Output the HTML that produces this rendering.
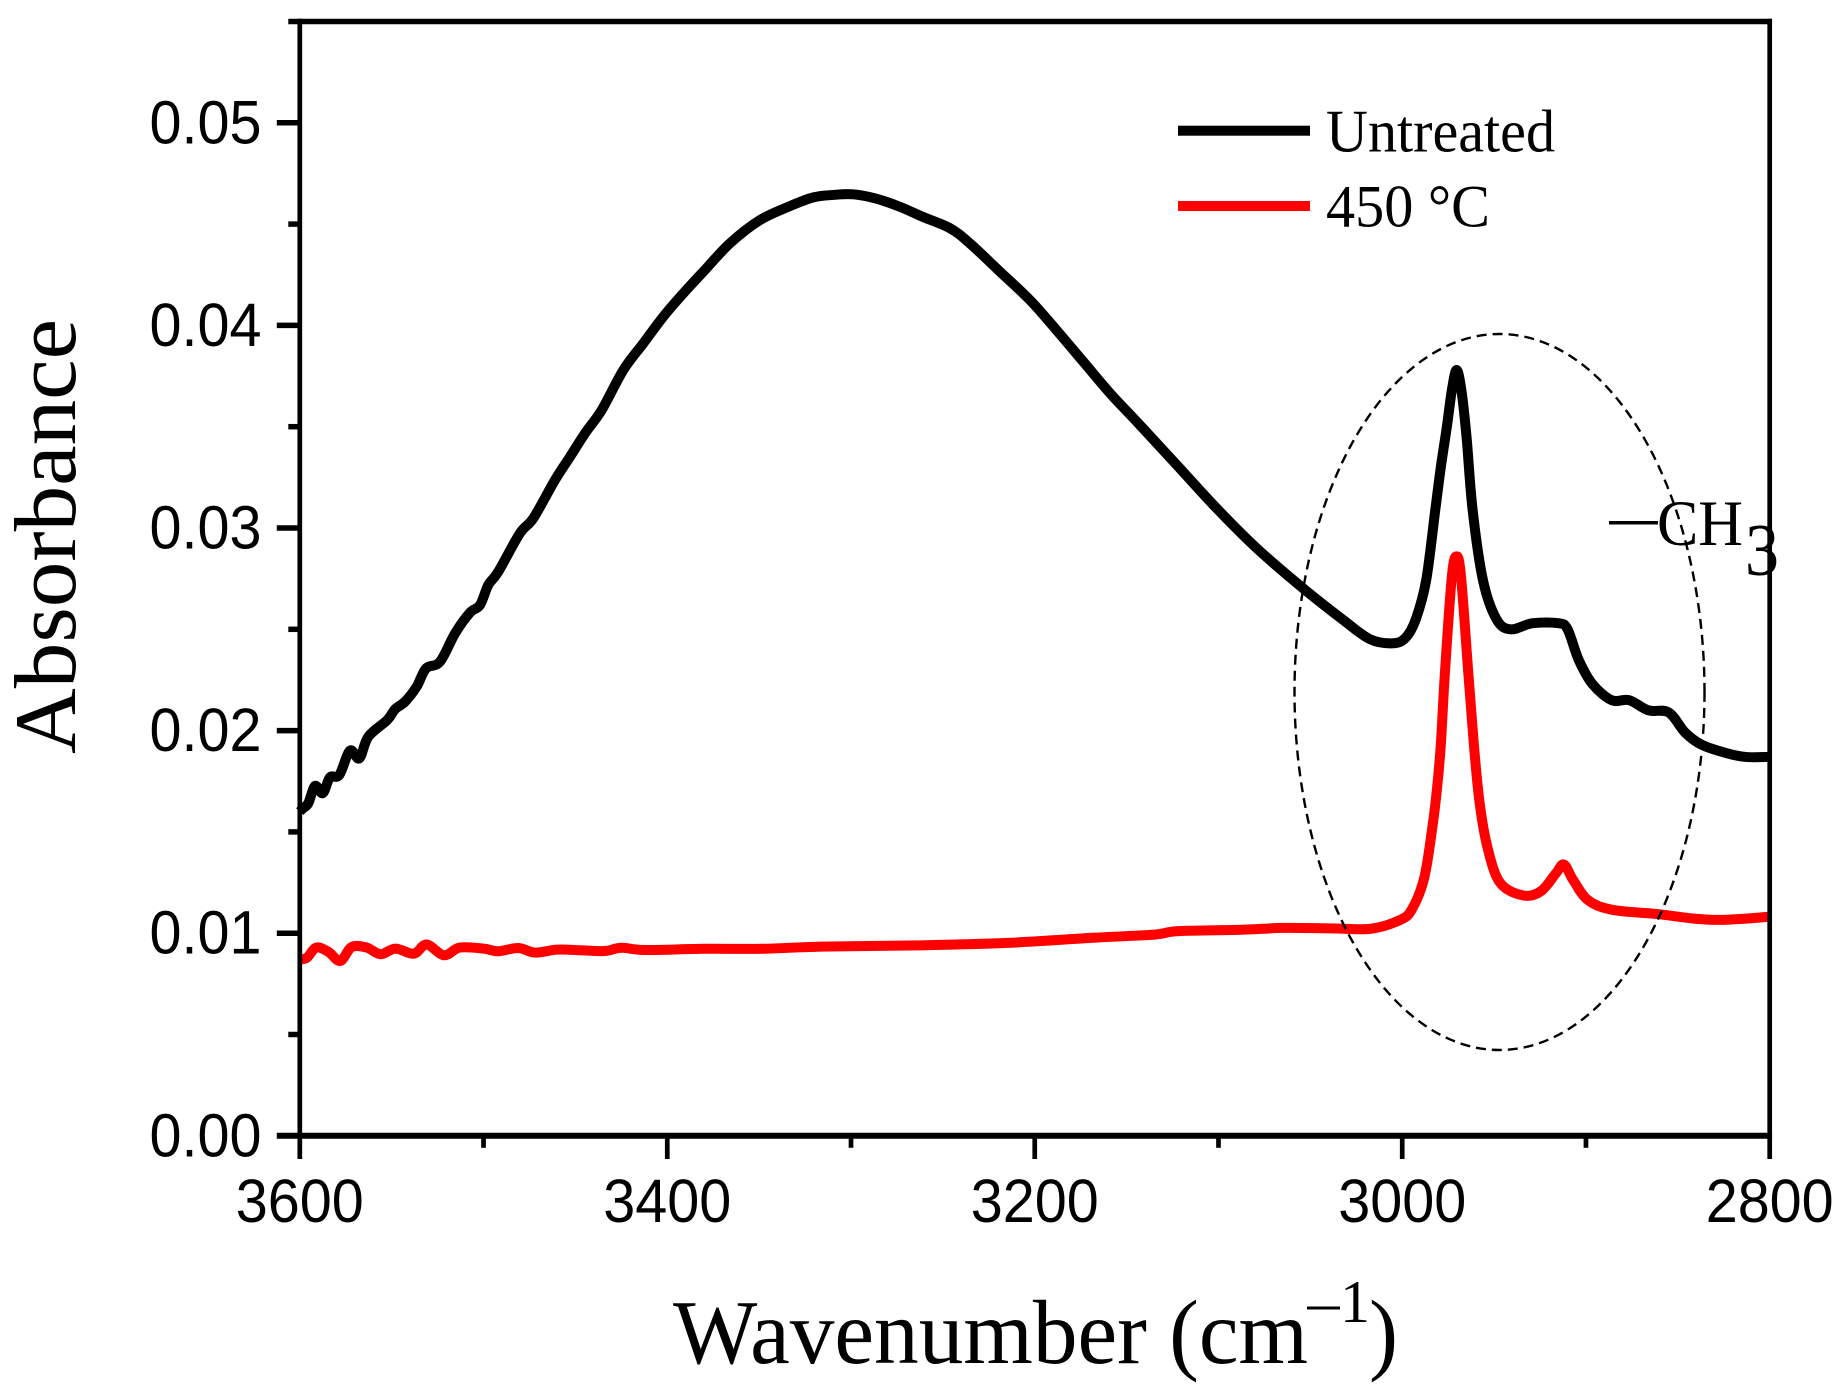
<!DOCTYPE html>
<html lang="en">
<head>
<meta charset="utf-8">
<title>Absorbance vs Wavenumber</title>
<style>
  html, body { margin: 0; padding: 0; background: #fff; }
  svg { display: block; }
  .sans { font-family: "Liberation Sans", Arial, sans-serif; fill: #000; }
  .serif { font-family: "Liberation Serif", "Times New Roman", serif; fill: #000; }
</style>
</head>
<body>
<svg id="chart" xmlns="http://www.w3.org/2000/svg" width="1839" height="1397" viewBox="0 0 1839 1397">
  <rect x="0" y="0" width="1839" height="1397" fill="#fff"/>
  <g id="series"></g>
  <ellipse cx="1499.5" cy="692" rx="205" ry="358" fill="none" stroke="#000" stroke-width="2.4" stroke-dasharray="10 6"/>
  <g id="axes"></g>

  <text class="serif" transform="translate(75,754) rotate(-90)" font-size="88" textLength="435" lengthAdjust="spacingAndGlyphs">Absorbance</text>
  <text class="serif" x="673" y="1363" font-size="91" textLength="635" lengthAdjust="spacingAndGlyphs">Wavenumber (cm</text>
  <rect x="1307" y="1306.5" width="33" height="3" fill="#000"/>
  <text class="serif" x="1340" y="1322" font-size="60">1</text>
  <text class="serif" x="1369" y="1363" font-size="91" textLength="29" lengthAdjust="spacingAndGlyphs">)</text>

  <g>
    <rect x="1178" y="125.7" width="132" height="10" fill="#000"/>
    <text class="serif" x="1326" y="151.7" font-size="60" textLength="229" lengthAdjust="spacingAndGlyphs">Untreated</text>
    <rect x="1178" y="201" width="132" height="10" fill="#f00"/>
    <text class="serif" x="1326" y="226.7" font-size="60" textLength="164" lengthAdjust="spacingAndGlyphs">450 °C</text>
  </g>

  <g>
    <rect x="1609" y="521" width="49" height="3.5" fill="#000"/>
    <text class="serif" x="1657" y="545" font-size="65" textLength="86" lengthAdjust="spacingAndGlyphs">CH</text>
    <text class="serif" x="1745" y="575" font-size="74" textLength="34" lengthAdjust="spacingAndGlyphs">3</text>
  </g>
</svg>

<script>
// Data
const xMajorTicks = [3600, 3400, 3200, 3000, 2800];
const xMinorTicks = [3500, 3300, 3100, 2900];
const yMajorTicks = [0, 0.01, 0.02, 0.03, 0.04, 0.05];
const yMinorTicks = [0.005, 0.015, 0.025, 0.035, 0.045, 0.055];
const yTickLabels = ["0.00", "0.01", "0.02", "0.03", "0.04", "0.05"];
const xTickLabels = ["3600", "3400", "3200", "3000", "2800"];

const untreatedWavenumber = [3600,3598.4,3595.4,3591.7,3587.5,3583.6,3578.5,3572.7,3567.6,3562.7,3552.4,3548.2,3542.7,3536.4,3531.3,3523.7,3515.5,3507.4,3501.9,3497.4,3492,3480.2,3472.9,3461.1,3452.9,3444.8,3435.7,3423.9,3413,3402.2,3391.3,3380.4,3365.9,3349.5,3333.2,3320.5,3309.6,3298.8,3286,3273.3,3260.7,3246,3235.2,3218.9,3202.6,3188,3173.6,3159,3144.5,3122.7,3101,3079.2,3053.9,3032.1,3017.5,3004.9,2998,2992.6,2987,2982,2979,2975.7,2973,2970.4,2967.8,2965,2961.7,2956,2948.7,2941,2929,2915,2910,2904,2896.5,2886,2876.5,2866,2855,2846,2837,2824,2813,2800];
const untreatedAbsorbance = [0.0160,0.01616,0.01641,0.01727,0.01691,0.01769,0.01781,0.01901,0.01863,0.0197,0.02052,0.02105,0.02143,0.02217,0.02307,0.0234,0.0248,0.02582,0.0262,0.02719,0.02784,0.02974,0.03048,0.03237,0.03352,0.03467,0.03582,0.0378,0.03912,0.04043,0.04158,0.04265,0.04405,0.0452,0.04589,0.04632,0.04644,0.04647,0.04625,0.04585,0.04535,0.04479,0.04404,0.04265,0.04125,0.03975,0.03821,0.03665,0.03525,0.03311,0.03097,0.029,0.02702,0.02546,0.02451,0.02431,0.0246,0.0255,0.0274,0.0309,0.0330,0.0350,0.0368,0.0378,0.0368,0.0345,0.0309,0.0274,0.0255,0.0250,0.0253,0.0253,0.0250,0.0235,0.0223,0.0215,0.0215,0.0210,0.0209,0.0199,0.0193,0.0189,0.0187,0.0187];

const treatedWavenumber = [3600,3596,3591,3584.4,3578,3571.7,3563.6,3556,3548,3538,3531,3521.5,3513,3500,3492,3481,3472,3460,3447.6,3434,3425,3412,3380,3348,3316,3263,3215,3167,3135,3122,3087,3065,3039,3017,3001,2994.6,2988,2983.4,2981,2979,2976.8,2973,2970.4,2968,2964,2961,2957.9,2953.7,2946.8,2934,2924.4,2916.4,2912,2907,2899,2886,2860.6,2841,2825,2800];
const treatedAbsorbance = [0.0087,0.0088,0.00929,0.00908,0.00863,0.00932,0.00929,0.00896,0.00924,0.00899,0.00944,0.00891,0.00929,0.00924,0.00911,0.00927,0.00904,0.00919,0.00916,0.00912,0.00928,0.00917,0.00923,0.00923,0.00934,0.0094,0.00952,0.00978,0.00993,0.0101,0.01017,0.01026,0.01024,0.01022,0.01066,0.0112,0.01274,0.01536,0.0172,0.0193,0.0228,0.0276,0.0286,0.0276,0.0228,0.0193,0.01645,0.01427,0.0125,0.01186,0.01208,0.01295,0.01339,0.01263,0.01164,0.01116,0.01094,0.01072,0.01066,0.01081];

const svgNS = "http://www.w3.org/2000/svg";
const axesGroup = document.getElementById("axes");
const seriesGroup = document.getElementById("series");

const plotLeft = 299.8, plotRight = 1769.7, plotTop = 21.5, plotBottom = 1135.8;
const xDomainStart = 3600, xDomainEnd = 2800, yDomainMin = 0, yDomainMax = 0.055;
const vStroke = 4.7, hStroke = 5.5;

function xScale(w) {
  return plotLeft + (w - xDomainStart) / (xDomainEnd - xDomainStart) * (plotRight - plotLeft);
}
function yScale(v) {
  return plotBottom - (v - yDomainMin) / (yDomainMax - yDomainMin) * (plotBottom - plotTop);
}
function makeLine(x1, y1, x2, y2, width) {
  const l = document.createElementNS(svgNS, "line");
  l.setAttribute("x1", x1);
  l.setAttribute("y1", y1);
  l.setAttribute("x2", x2);
  l.setAttribute("y2", y2);
  l.setAttribute("stroke", "#000");
  l.setAttribute("stroke-width", width);
  return l;
}
function curvePath(xs, ys) {
  const px = xs.map(xScale);
  const py = ys.map(yScale);
  let d = "M" + px[0].toFixed(2) + " " + py[0].toFixed(2);
  for (let i = 0; i < px.length - 1; i++) {
    const i0 = Math.max(i - 1, 0), i3 = Math.min(i + 2, px.length - 1);
    const c1x = px[i] + (px[i + 1] - px[i0]) / 6;
    const c1y = py[i] + (py[i + 1] - py[i0]) / 6;
    const c2x = px[i + 1] - (px[i3] - px[i]) / 6;
    const c2y = py[i + 1] - (py[i3] - py[i]) / 6;
    d += " C" + c1x.toFixed(2) + " " + c1y.toFixed(2) + " " + c2x.toFixed(2) + " " + c2y.toFixed(2) + " " + px[i + 1].toFixed(2) + " " + py[i + 1].toFixed(2);
  }
  return d;
}

// Series
const untreatedPath = document.createElementNS(svgNS, "path");


untreatedPath.setAttribute("d", curvePath(untreatedWavenumber, untreatedAbsorbance));
untreatedPath.setAttribute("fill", "none");
untreatedPath.setAttribute("stroke", "#000");
untreatedPath.setAttribute("stroke-width", "10");
untreatedPath.setAttribute("stroke-linejoin", "round");
seriesGroup.appendChild(untreatedPath);

const treatedPath = document.createElementNS(svgNS, "path");


treatedPath.setAttribute("d", curvePath(treatedWavenumber, treatedAbsorbance));
treatedPath.setAttribute("fill", "none");
treatedPath.setAttribute("stroke", "#f00");
treatedPath.setAttribute("stroke-width", "10");
treatedPath.setAttribute("stroke-linejoin", "round");
seriesGroup.appendChild(treatedPath);

// Frame
const frameTop = makeLine(plotLeft, plotTop, plotRight + vStroke / 2, plotTop, hStroke);


axesGroup.appendChild(frameTop);

const frameBottom = makeLine(plotLeft, plotBottom, plotRight + vStroke / 2, plotBottom, 6);


axesGroup.appendChild(frameBottom);

const frameLeft = makeLine(plotLeft, plotTop - hStroke / 2, plotLeft, plotBottom, vStroke);


axesGroup.appendChild(frameLeft);

const frameRight = makeLine(plotRight, plotTop - hStroke / 2, plotRight, plotBottom, vStroke);


axesGroup.appendChild(frameRight);

// Y ticks and labels
yMajorTicks.forEach(function (v, i) {
  const t = makeLine(plotLeft - 23, yScale(v), plotLeft, yScale(v), v === 0 ? 6 : hStroke);
  
  
  axesGroup.appendChild(t);
  const label = document.createElementNS(svgNS, "text");
  
  
  label.setAttribute("class", "sans");
  label.setAttribute("x", 261.5);
  label.setAttribute("y", yScale(v) + 20.5);
  label.setAttribute("font-size", "61");
  label.setAttribute("text-anchor", "end");
  label.setAttribute("textLength", "112");
  label.setAttribute("lengthAdjust", "spacingAndGlyphs");
  label.textContent = yTickLabels[i];
  axesGroup.appendChild(label);
});
yMinorTicks.forEach(function (v) {
  const t = makeLine(plotLeft - 11.5, yScale(v), plotLeft, yScale(v), hStroke);
  
  
  axesGroup.appendChild(t);
});

// X ticks and labels
xMajorTicks.forEach(function (w, i) {
  const t = makeLine(xScale(w), plotBottom, xScale(w), plotBottom + 23.2, vStroke);
  
  
  axesGroup.appendChild(t);
  const label = document.createElementNS(svgNS, "text");
  
  
  label.setAttribute("class", "sans");
  label.setAttribute("x", xScale(w));
  label.setAttribute("y", 1222);
  label.setAttribute("font-size", "61");
  label.setAttribute("text-anchor", "middle");
  label.setAttribute("textLength", "128");
  label.setAttribute("lengthAdjust", "spacingAndGlyphs");
  label.textContent = xTickLabels[i];
  axesGroup.appendChild(label);
});
xMinorTicks.forEach(function (w) {
  const t = makeLine(xScale(w), plotBottom, xScale(w), plotBottom + 12, vStroke);
  
  
  axesGroup.appendChild(t);
});
</script>
</body>
</html>
